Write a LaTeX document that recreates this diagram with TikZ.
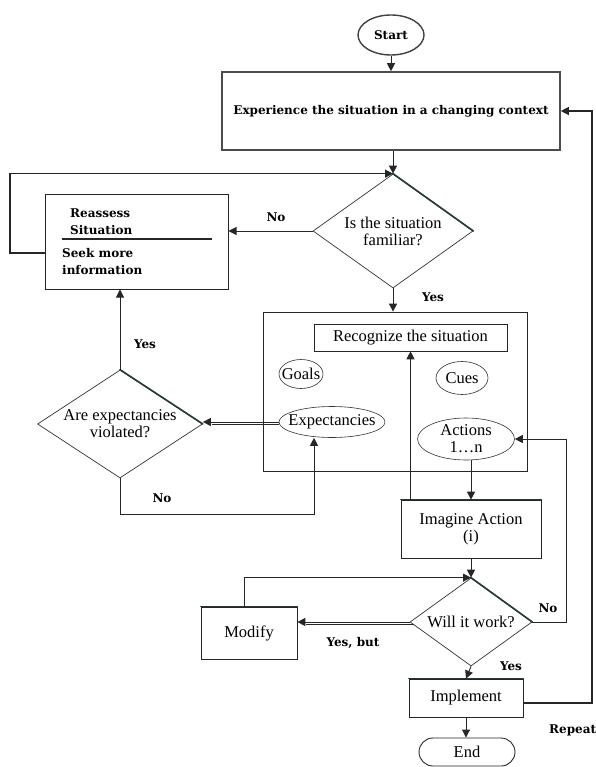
\documentclass[tikz,border=0pt]{standalone}
\usepackage{fontspec}
\setmainfont{Liberation Serif}
\newfontfamily\lblfont{DejaVu Serif}
\usetikzlibrary{shapes.geometric, arrows.meta, calc}
\definecolor{edgegreen}{RGB}{38,58,48}
\tikzset{
  txt/.style={font=\fontsize{16.5}{17}\selectfont, align=center, inner sep=0pt},
  lbl/.style={font=\lblfont\bfseries\fontsize{12}{17}\selectfont, inner sep=0pt},
  box/.style={draw=black!85, line width=0.8pt, inner sep=0pt},
  oval/.style={ellipse, draw=black!80, line width=0.6pt, inner sep=0pt},
  decision/.style={diamond, draw=black!80, line width=0.7pt, inner sep=0pt},
  thickedge/.style={draw=edgegreen, line width=1.6pt, line cap=round},
  arr/.style={draw=black!85, line width=0.9pt, -{Triangle[length=8pt,width=8pt]}},
  twin/.style={draw=black!85, line width=0.8pt},
}
\begin{document}
\begin{tikzpicture}[x=1pt,y=-1pt]
\useasboundingbox (0,0) rectangle (595,767);

% shapes
\node[oval, draw=black!75, line width=1.4pt, minimum width=66, minimum height=40,
      label={[lbl]center:Start}] (start) at (391,35) {};
\node[box, draw=black!70, line width=1.6pt, minimum width=338, minimum height=78,
      label={[lbl]center:Experience the situation in a changing context}] (exp) at (391,111) {};
\node[decision, minimum width=160, minimum height=114,
      label={[txt]center:Is the situation\\familiar?}] (fam) at (393,231) {};
\node[box, line width=1pt, minimum width=183, minimum height=94] (reassess) at (136.5,242) {};
\node[lbl, anchor=west] (rsA) at (70,213) {Reassess};
\node[lbl, anchor=west] (rsB) at (70,230) {Situation};
\node[lbl, anchor=west] (rsC) at (62,253) {Seek more};
\node[lbl, anchor=west] (rsD) at (62,270) {information};
\draw[line width=1.1pt, black!85] (62,239) -- (212,239);

\node[box, minimum width=264, minimum height=159] (big) at (395,391.5) {};
\node[box, line width=0.6pt, minimum width=193, minimum height=27,
      label={[txt]center:Recognize the situation}] (recog) at (410.5,337.5) {};
\node[oval, minimum width=44, minimum height=29, label={[txt]center:Goals}] (goals) at (301,374) {};
\node[oval, minimum width=52, minimum height=33, label={[txt]center:Cues}] (cues) at (462,378) {};
\node[oval, minimum width=106, minimum height=31, label={[txt]center:Expectancies}] (expect) at (332,422) {};
\node[oval, minimum width=97, minimum height=42, label={[txt]center:Actions\\1…n}] (actions) at (466,439) {};

\node[decision, minimum width=165, minimum height=108,
      label={[txt]center:Are expectancies\\violated?}] (areexp) at (120,424) {};

\node[box, line width=0.7pt, minimum width=140, minimum height=58,
      label={[txt]center:Imagine Action\\(i)}] (imagine) at (471,529) {};
\node[decision, minimum width=122, minimum height=88,
      label={[txt]center:Will it work?}] (will) at (471,622) {};
\node[box, line width=0.7pt, minimum width=96, minimum height=52,
      label={[txt]center:Modify}] (modify) at (249,633) {};
\node[box, line width=0.7pt, minimum width=114, minimum height=38,
      label={[txt]center:Implement}] (implement) at (466,698) {};
\node[box, line width=0.9pt, rounded corners=14pt, minimum width=96, minimum height=28,
      label={[txt]center:End}] (end) at (467,752) {};

% emphasised edges
\draw[thickedge] (fam.north) -- (fam.east);
\draw[thickedge] (areexp.north) -- (areexp.east);
\draw[thickedge] (will.north) -- (will.east);
\draw[thickedge] (imagine.north west) -- (imagine.north east);
\draw[thickedge, line width=1.1pt] (modify.north west) -- (modify.north east);
\draw[thickedge, line width=1.1pt] (implement.north west) -- (implement.north east);

% helper coordinates
\coordinate (loopL) at (10,253);
\coordinate (noLoop) at (121,514);
\coordinate (noR) at (566,439);
\coordinate (repR) at (592,111);

% connectors
\draw[arr] (start.south) -- (start.south |- exp.north);
\draw[arr] (fam.north |- exp.south) -- (fam.north);
\draw[arr, line width=1.2pt] (reassess.west |- loopL) -- (loopL) |- (fam.north);
\draw[arr] (fam.west) -- (fam.west -| reassess.east);
\draw[arr] (fam.south) -- (fam.south |- big.north);
\draw[arr] (areexp.north) -- (areexp.north |- reassess.south);
% twin-line arrow: Expectancies -> Are expectancies violated?
\draw[arr] (expect.west) -- (expect.west -| areexp.east);
\draw[twin] ([yshift=-2.8pt]expect.west) -- ([shift={(9pt,-2.8pt)}]expect.west -| areexp.east);
\draw[arr] (areexp.south) -- (areexp.south |- noLoop) -| ([xshift=-18pt]expect.south);
\draw[arr] (imagine.north -| recog.south) -- (recog.south);
\draw[arr] (actions.south -| imagine.north) -- (imagine.north);
\draw[arr] (imagine.south) -- (will.north);
% twin-line arrow: Will it work? -> Modify
\draw[arr] (will.west) -- (will.west -| modify.east);
\draw[twin] ([shift={(3.9pt,-2.8pt)}]will.west) -- ([shift={(9pt,-2.8pt)}]will.west -| modify.east);
\draw[arr] ([xshift=-5pt]modify.north) |- (will.north);
\draw[arr] (will.east) -| (noR) -- (actions.east);
\draw[arr] (will.south) -- (implement.north);
\draw[arr, line width=1.2pt] ([yshift=-5pt]implement.east) -| (repR) -- (exp.east);
\draw[arr] (implement.south) -- (implement.south |- end.north);

% labels
\node[lbl] (noA) at (276,217) {No};
\node[lbl] (yesA) at (433,297) {Yes};
\node[lbl] (yesB) at (145,344) {Yes};
\node[lbl] (noB) at (162,498) {No};
\node[lbl] (noC) at (548,608) {No};
\node[lbl] (yesbut) at (353,643) {Yes, but};
\node[lbl] (yesC) at (511,666) {Yes};
\node[lbl, anchor=west] (rep) at (549,730) {Repeat};
\end{tikzpicture}
\end{document}
